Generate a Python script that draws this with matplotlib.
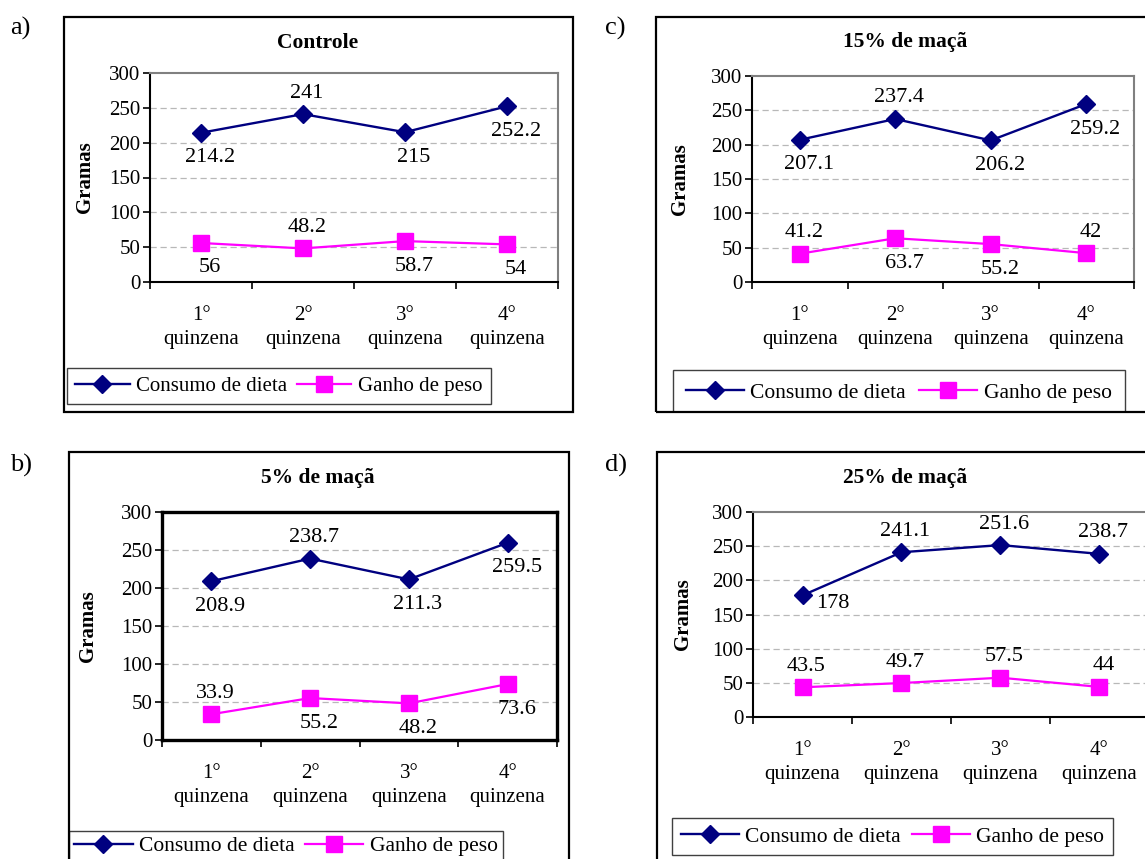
import matplotlib.pyplot as plt
from matplotlib.lines import Line2D
from matplotlib.patches import Rectangle

plt.rcParams['font.family'] = ['Liberation Serif', 'DejaVu Serif']

# dados
categorias = ['1°\nquinzena', '2°\nquinzena', '3°\nquinzena', '4°\nquinzena']
series = ['Consumo de dieta', 'Ganho de peso']

consumo_controle = [214.2, 241, 215, 252.2]
ganho_controle = [56, 48.2, 58.7, 54]
consumo_5 = [208.9, 238.7, 211.3, 259.5]
ganho_5 = [33.9, 55.2, 48.2, 73.6]
consumo_15 = [207.1, 237.4, 206.2, 259.2]
ganho_15 = [41.2, 63.7, 55.2, 42]
consumo_25 = [178, 241.1, 251.6, 238.7]
ganho_25 = [43.5, 49.7, 57.5, 44]

W, H = 1145, 859
AZUL = '#000080'
ROSA = '#FF00FF'

fig = plt.figure(figsize=(W / 100, H / 100), dpi=100)


def frac(x0, y0, x1, y1):
    return [x0 / W, 1 - y1 / H, (x1 - x0) / W, (y1 - y0) / H]


# posicao dos rotulos: 'a' acima, 'b' abaixo, 'r' a direita
OFF = {'a': (4, 21), 'b': (9, -25), 'r': (30, -8)}


def painel(letra, lx, ly, caixa, area, titulo, consumo, ganho,
           pos_c, pos_g, ylab_x, leg_xy, borda='cinza', leg_pad=0.4,
           leg_col=0.5, leg_fs=15, leg_hl=2.6):
    # moldura externa
    fig.patches.append(Rectangle((caixa[0] / W, 1 - caixa[3] / H),
                                 (caixa[2] - caixa[0]) / W,
                                 (caixa[3] - caixa[1]) / H,
                                 transform=fig.transFigure, fill=False,
                                 edgecolor='black', linewidth=1.6, zorder=21))
    fig.text(lx / W, 1 - ly / H, letra, fontsize=19, ha='left', va='center')
    fig.text(area[4] / W, 1 - area[5] / H, titulo, fontsize=15.5,
             fontweight='bold', ha='center', va='center')

    ax = fig.add_axes(frac(*area[:4]))
    x = [1, 2, 3, 4]
    ax.plot(x, consumo, color=AZUL, lw=1.7, marker='D', markersize=9.5,
            markerfacecolor=AZUL, markeredgecolor=AZUL, zorder=4, clip_on=False)
    ax.plot(x, ganho, color=ROSA, lw=1.6, marker='s', markersize=11,
            markerfacecolor=ROSA, markeredgecolor=ROSA, zorder=4, clip_on=False)

    for xi, v, p in zip(x, consumo, pos_c):
        ax.annotate(f'{v:g}', (xi, v), xytext=OFF[p], textcoords='offset pixels',
                    ha='center', va='center', fontsize=16)
    for xi, v, p in zip(x, ganho, pos_g):
        ax.annotate(f'{v:g}', (xi, v), xytext=OFF[p], textcoords='offset pixels',
                    ha='center', va='center', fontsize=16)

    ax.set_xlim(0.5, 4.5)
    ax.set_ylim(0, 300)
    ax.set_yticks(range(0, 301, 50))
    ax.set_xticks(x)
    ax.set_xticklabels(categorias, linespacing=1.3)
    ax.set_xticks([0.5, 1.5, 2.5, 3.5, 4.5], minor=True)
    ax.tick_params(axis='x', which='major', length=0, pad=17.5, labelsize=15)
    ax.tick_params(axis='x', which='minor', length=5, width=1.2, direction='out')
    ax.tick_params(axis='y', length=5, width=1.2, pad=2, labelsize=15)
    for yv in range(50, 300, 50):
        ax.axhline(yv, color='#B8B8B8', lw=0.9, ls=(0, (5, 3)), zorder=1)

    ax.spines['left'].set_color('black')
    ax.spines['bottom'].set_color('black')
    ax.spines['left'].set_linewidth(1.5)
    ax.spines['bottom'].set_linewidth(1.5)
    if borda == 'preta':
        for s in ax.spines.values():
            s.set_color('black')
            s.set_linewidth(2.4)
    else:
        ax.spines['top'].set_color('#808080')
        ax.spines['right'].set_color('#808080')
        ax.spines['top'].set_linewidth(1.5)
        ax.spines['right'].set_linewidth(1.5)

    ax.set_ylabel('Gramas', fontsize=15, fontweight='bold', va='center')
    ax.yaxis.set_label_coords((ylab_x - area[0]) / (area[2] - area[0]), 0.5)

    handles = [Line2D([], [], color=AZUL, lw=1.7, marker='D', markersize=9.5),
               Line2D([], [], color=ROSA, lw=1.6, marker='s', markersize=11)]
    leg = fig.legend(handles, series, loc='upper left',
                     bbox_to_anchor=(leg_xy[0] / W, 1 - leg_xy[1] / H),
                     bbox_transform=fig.transFigure, ncol=2, fontsize=leg_fs,
                     frameon=True, fancybox=False, edgecolor='#404040',
                     framealpha=1, borderaxespad=0, borderpad=leg_pad,
                     handlelength=leg_hl, handletextpad=0.3, columnspacing=leg_col)
    leg.get_frame().set_linewidth(1.0)
    return ax


# a) Controle
painel('a)', 10, 28, (64, 17, 573, 412), (150, 73, 558, 282, 318, 43),
       'Controle', consumo_controle, ganho_controle,
       ['b', 'a', 'b', 'b'], ['b', 'a', 'b', 'b'], 85, (67, 368))

# c) 15%
painel('c)', 605, 28, (656, 17, 1160, 412), (752, 76, 1134, 282, 905, 42),
       '15% de maçã', consumo_15, ganho_15,
       ['b', 'a', 'b', 'b'], ['a', 'b', 'b', 'a'], 680, (673, 370),
       leg_pad=0.6, leg_col=0.6, leg_fs=15.5, leg_hl=2.7)

# b) 5%
painel('b)', 10, 465, (69, 452, 569, 875), (162, 512, 557, 740, 318, 478),
       '5% de maçã', consumo_5, ganho_5,
       ['b', 'a', 'b', 'b'], ['a', 'b', 'b', 'b'], 88, (69, 831), borda='preta',
       leg_pad=0.25, leg_fs=15.5, leg_hl=2.7)

# d) 25%
painel('d)', 605, 465, (657, 452, 1160, 875), (753, 512, 1149, 717, 905, 478),
       '25% de maçã', consumo_25, ganho_25,
       ['r', 'a', 'a', 'a'], ['a', 'a', 'a', 'a'], 683, (672, 818),
       leg_fs=15.5, leg_hl=2.7)

# a legenda do painel c) fica cortada pela moldura
fig.patches.append(Rectangle((655 / W, 1 - 450 / H), 500 / W, 37 / H,
                             transform=fig.transFigure, facecolor='white',
                             edgecolor='none', zorder=20))

fig.savefig('out.png', dpi=100)
